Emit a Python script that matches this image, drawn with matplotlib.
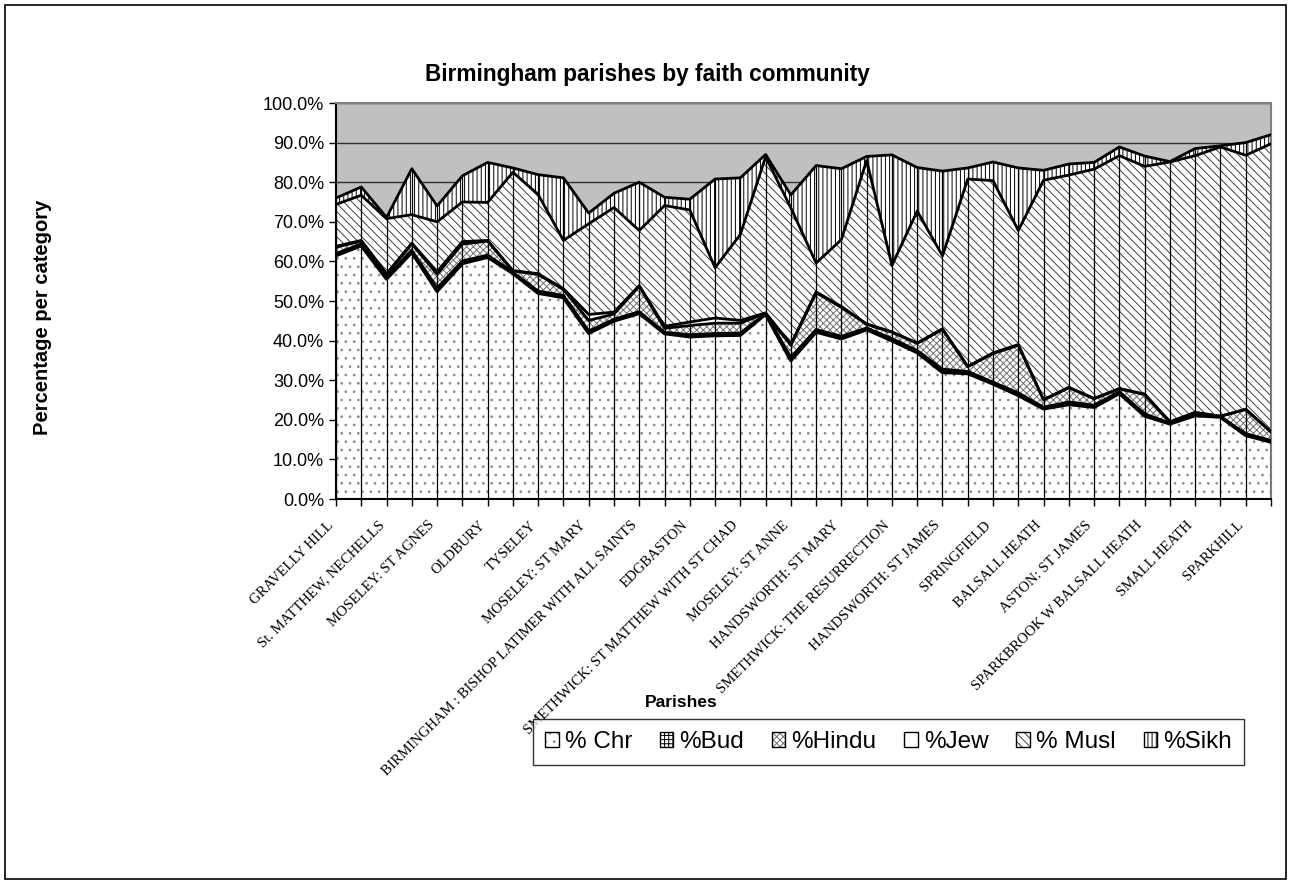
import matplotlib.pyplot as plt
import matplotlib.transforms as mtransforms
import numpy as np
from matplotlib.patches import Patch, Rectangle
from matplotlib.legend_handler import HandlerTuple
from matplotlib.ticker import PercentFormatter

plt.rcParams['font.family'] = ['Liberation Sans', 'DejaVu Sans']
plt.rcParams['hatch.linewidth'] = 0.7

# labelled parishes (every second category carries a label)
tick_labels = ['GRAVELLY HILL', 'St. MATTHEW, NECHELLS', 'MOSELEY: ST AGNES', 'OLDBURY',
               'TYSELEY', 'MOSELEY: ST MARY', 'BIRMINGHAM : BISHOP LATIMER WITH ALL SAINTS',
               'EDGBASTON', 'SMETHWICK: ST MATTHEW WITH ST CHAD', 'MOSELEY: ST ANNE',
               'HANDSWORTH: ST MARY', 'SMETHWICK: THE RESURRECTION', 'HANDSWORTH: ST JAMES',
               'SPRINGFIELD', 'BALSALL HEATH', 'ASTON: ST JAMES', 'SPARKBROOK W BALSALL HEATH',
               'SMALL HEATH', 'SPARKHILL']

# percentages per parish (38 parishes)
chr_pct = [61.5, 64.0, 55.6, 62.3, 52.5, 59.5, 61.1, 57.0, 52.0, 50.9,
           41.9, 45.0, 46.9, 41.8, 41.0, 41.3, 41.4, 46.7, 35.0, 42.2,
           40.5, 42.8, 40.0, 37.0, 32.0, 31.7, 29.1, 26.2, 22.8, 23.9,
           23.2, 26.7, 21.0, 19.0, 21.1, 20.7, 16.1, 14.4]
bud_pct = [0.5, 0.4, 0.4, 0.5, 0.8, 0.6, 0.5, 0.3, 0.5, 0.5,
           0.5, 0.4, 0.4, 0.3, 0.5, 0.5, 0.5, 0.1, 0.8, 0.6,
           0.6, 0.4, 0.5, 0.5, 0.8, 0.5, 0.4, 0.6, 0.4, 0.6,
           0.5, 0.4, 0.5, 0.2, 0.4, 0.1, 0.4, 0.4]
hindu_pct = [1.6, 0.7, 0.7, 1.6, 3.5, 4.3, 3.5, 0.3, 4.2, 1.5,
             2.7, 1.3, 6.4, 1.0, 2.3, 2.6, 2.5, 0.1, 3.0, 9.3,
             7.3, 0.9, 1.6, 1.8, 10.0, 1.2, 7.2, 12.0, 1.8, 3.6,
             1.6, 0.7, 4.9, 0.2, 0.3, 0.1, 6.1, 2.1]
jew_pct = [0.2, 0.2, 0.2, 0.2, 0.6, 0.6, 0.2, 0.1, 0.2, 0.2,
           1.5, 0.5, 0.2, 0.5, 0.9, 1.3, 0.7, 0.1, 0.3, 0.2,
           0.2, 0.1, 0.1, 0.1, 0.2, 0.1, 0.2, 0.2, 0.1, 0.1,
           0.1, 0.1, 0.1, 0.1, 0.1, 0.0, 0.1, 0.1]
musl_pct = [10.6, 11.4, 13.9, 7.2, 12.6, 10.0, 9.6, 24.8, 20.0, 12.2,
            22.9, 26.4, 13.9, 30.5, 28.3, 12.7, 21.7, 39.4, 34.4, 7.3,
            16.9, 41.3, 16.8, 33.3, 18.4, 47.3, 43.5, 28.8, 55.4, 53.6,
            57.9, 58.8, 57.5, 65.6, 64.8, 68.0, 64.1, 72.7]
sikh_pct = [1.6, 2.1, 0.3, 11.6, 4.0, 6.6, 10.1, 1.1, 5.0, 15.8,
            2.7, 3.6, 12.2, 2.1, 2.7, 22.4, 14.3, 0.6, 3.3, 24.6,
            17.9, 1.0, 27.9, 11.0, 21.4, 2.8, 4.7, 15.8, 2.5, 2.8,
            1.7, 2.2, 2.6, 0.1, 1.8, 0.3, 3.2, 2.3]

series = [('% Chr', chr_pct, '#8a8a8a', '..'),
          ('%Bud', bud_pct, 'black', '++++'),
          ('%Hindu', hindu_pct, '#707070', 'xxxxx'),
          ('%Jew', jew_pct, 'white', None),
          ('% Musl', musl_pct, '#404040', '\\\\\\\\'),
          ('%Sikh', sikh_pct, 'black', '||||')]

x = np.arange(len(chr_pct))

fig = plt.figure(figsize=(12.91, 8.84), dpi=100)
ax = fig.add_axes([336 / 1291, 1 - 499 / 884, 935 / 1291, 396 / 884])
ax.set_facecolor('#c0c0c0')

base = np.zeros(len(x))
handles = []
for name, vals, hcol, hatch in series:
    top = base + np.array(vals)
    ax.fill_between(x, base, top, facecolor='white', edgecolor=hcol,
                    hatch=hatch, linewidth=0, zorder=2)
    lw = 2.6 if name == '% Chr' else 2.0
    ax.plot(x, top, color='black', lw=lw, zorder=4)
    p1 = Patch(facecolor='white', edgecolor=hcol, hatch=hatch, linewidth=0)
    p2 = Patch(facecolor='none', edgecolor='black', linewidth=1)
    handles.append((p1, p2))
    base = top

# drop lines
ax.vlines(x, 0, base, color='black', lw=0.9, zorder=3)

ax.set_xlim(0, len(x) - 1)
ax.set_ylim(0, 100)
ax.set_yticks(np.arange(0, 101, 10))
ax.yaxis.set_major_formatter(PercentFormatter(decimals=1))
ax.yaxis.grid(True, color='#303030', lw=1)
ax.set_axisbelow(True)

ax.set_xticks(x[::2])
ax.set_xticklabels(tick_labels, rotation=45, ha='right', rotation_mode='anchor',
                   family='Liberation Serif', fontsize=10.5)
ax.set_xticks(x, minor=True)
ax.tick_params(axis='x', which='both', length=5, width=1, pad=4)
ax.tick_params(axis='y', length=5, width=1, labelsize=13)
shift = mtransforms.ScaledTranslation(-9 / 100, -7 / 100, fig.dpi_scale_trans)
for lab in ax.get_xticklabels():
    lab.set_transform(lab.get_transform() + shift)

for s in ['left', 'bottom']:
    ax.spines[s].set_color('black')
    ax.spines[s].set_linewidth(1.5)
for s in ['top', 'right']:
    ax.spines[s].set_color('#808080')
    ax.spines[s].set_linewidth(1.5)

ax.set_ylabel('Percentage per category', fontsize=14.5, fontweight='bold')
ax.yaxis.set_label_coords(-0.304, 0.46)
ax.set_xlabel('Parishes', fontsize=12.5, fontweight='bold')
ax.xaxis.set_label_coords(0.369, -0.495)

fig.text(647 / 1291, 1 - 75 / 884, 'Birmingham parishes by faith community',
         ha='center', va='center', fontsize=16.3, fontweight='bold')

leg = fig.legend(handles, [s[0] for s in series], ncol=6,
                 handler_map={tuple: HandlerTuple(ndivide=1, pad=0)},
                 loc='upper left', bbox_to_anchor=(533 / 1291, 1 - 719 / 884),
                 fontsize=17.5, frameon=True, fancybox=False, edgecolor='black',
                 handlelength=0.55, handleheight=0.55, handletextpad=0.25,
                 columnspacing=1.15, borderpad=0.5, borderaxespad=0)
leg.get_frame().set_linewidth(1)

fig.patches.append(Rectangle((5 / 1291, 5 / 884), 1281 / 1291, 874 / 884,
                             transform=fig.transFigure, fill=False,
                             edgecolor='black', lw=1.2))

fig.savefig('out.png', dpi=100)
